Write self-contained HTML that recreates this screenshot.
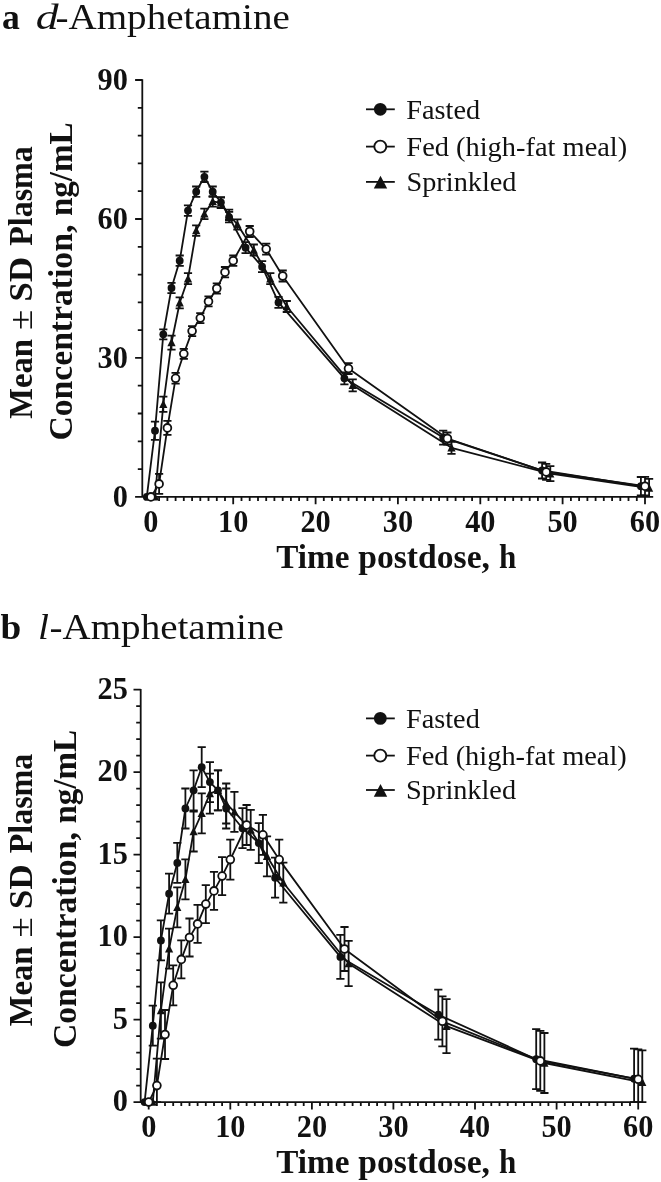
<!DOCTYPE html>
<html lang="en"><head><meta charset="utf-8"><title>Amphetamine plasma concentration</title>
<style>html,body{margin:0;padding:0;background:#fff}svg{display:block}</style></head>
<body>
<svg width="661" height="1182" viewBox="0 0 661 1182" font-family="'Liberation Serif', 'Times New Roman', serif" fill="#111">
<rect width="661" height="1182" fill="#fff"/>
<text x="1.93" y="28.7" font-size="36.5" font-weight="bold" textLength="17.83" lengthAdjust="spacingAndGlyphs">a</text>
<text x="35.73" y="28.7" font-size="36.5" font-style="italic" textLength="22.81" lengthAdjust="spacingAndGlyphs">d</text>
<text x="55.53" y="28.7" font-size="36.5" textLength="234.29" lengthAdjust="spacingAndGlyphs">-Amphetamine</text>
<text x="0.63" y="638.7" font-size="36.5" font-weight="bold" textLength="20.72" lengthAdjust="spacingAndGlyphs">b</text>
<text x="38.12" y="638.7" font-size="36.5" font-style="italic" textLength="10.98" lengthAdjust="spacingAndGlyphs">l</text>
<text x="49.53" y="638.7" font-size="36.5" textLength="234.29" lengthAdjust="spacingAndGlyphs">-Amphetamine</text>
<path fill="none" stroke="#111" stroke-width="1.8" d="M142.3 79.3V496.9M135.1 496.9H645.9M137.8 469.1H142.3M137.8 441.3H142.3M137.8 413.5H142.3M137.8 385.7H142.3M135.1 357.9H142.3M137.8 330.1H142.3M137.8 302.4H142.3M137.8 274.6H142.3M137.8 246.8H142.3M135.1 219H142.3M137.8 191.2H142.3M137.8 163.4H142.3M137.8 135.6H142.3M137.8 107.8H142.3M135.1 80H142.3M159.1 496.9V500.9M167.4 496.9V500.9M175.6 496.9V500.9M183.8 496.9V500.9M192.1 496.9V500.9M200.3 496.9V500.9M208.5 496.9V500.9M216.8 496.9V500.9M225 496.9V500.9M233.2 496.9V504.2M241.5 496.9V500.9M249.7 496.9V500.9M258 496.9V500.9M266.2 496.9V500.9M274.4 496.9V500.9M282.7 496.9V500.9M290.9 496.9V500.9M299.1 496.9V500.9M307.4 496.9V500.9M315.6 496.9V504.2M323.8 496.9V500.9M332.1 496.9V500.9M340.3 496.9V500.9M348.5 496.9V500.9M356.8 496.9V500.9M365 496.9V500.9M373.2 496.9V500.9M381.5 496.9V500.9M389.7 496.9V500.9M397.9 496.9V504.2M406.2 496.9V500.9M414.4 496.9V500.9M422.7 496.9V500.9M430.9 496.9V500.9M439.1 496.9V500.9M447.4 496.9V500.9M455.6 496.9V500.9M463.8 496.9V500.9M472.1 496.9V500.9M480.3 496.9V504.2M488.5 496.9V500.9M496.8 496.9V500.9M505 496.9V500.9M513.2 496.9V500.9M521.5 496.9V500.9M529.7 496.9V500.9M537.9 496.9V500.9M546.2 496.9V500.9M554.4 496.9V500.9M562.6 496.9V504.2M570.9 496.9V500.9M579.1 496.9V500.9M587.4 496.9V500.9M595.6 496.9V500.9M603.8 496.9V500.9M612.1 496.9V500.9M620.3 496.9V500.9M628.5 496.9V500.9M636.8 496.9V500.9M645 496.9V504.2"/>
<polyline fill="none" stroke="#111" stroke-width="1.8" stroke-linejoin="round" points="155,496.9 163.3,404.3 171.5,342.7 179.7,302.8 188,278.7 196.2,230.6 204.4,213.9 212.7,201.4 220.9,202.8 229.1,214.8 237.4,224.5 253.8,250 270.3,278.7 286.8,306.5 352.7,385.3 451.5,447.8 550.3,473.7 649.1,488.1"/>
<path fill="none" stroke="#111" stroke-width="1.8" d="M163.3 396.7V411.9M159.2 396.7H167.4M159.2 411.9H167.4M171.5 335.7V349.7M167.4 335.7H175.6M167.4 349.7H175.6M179.7 297.3V308.3M175.6 297.3H183.8M175.6 308.3H183.8M188 273.2V284.2M183.9 273.2H192.1M183.9 284.2H192.1M196.2 225.4V235.8M192.1 225.4H200.3M192.1 235.8H200.3M204.4 208.7V219.1M200.3 208.7H208.5M200.3 219.1H208.5M212.7 196.2V206.6M208.6 196.2H216.8M208.6 206.6H216.8M220.9 197.6V208M216.8 197.6H225M216.8 208H225M229.1 209.6V220M225 209.6H233.2M225 220H233.2M237.4 219.3V229.7M233.3 219.3H241.5M233.3 229.7H241.5M253.8 244.5V255.5M249.7 244.5H257.9M249.7 255.5H257.9M270.3 273.2V284.2M266.2 273.2H274.4M266.2 284.2H274.4M286.8 301V312M282.7 301H290.9M282.7 312H290.9M352.7 379.3V391.3M348.6 379.3H356.8M348.6 391.3H356.8M451.5 441.8V453.8M447.4 441.8H455.6M447.4 453.8H455.6M550.3 466.2V481.2M546.2 466.2H554.4M546.2 481.2H554.4M649.1 478.9V496.9M645 478.9H653.2M645 496.9H653.2"/>
<path fill="#111" d="M155 492.4L159.1 500.6H150.9Z"/>
<path fill="#111" d="M163.3 399.8L167.4 407.9H159.2Z"/>
<path fill="#111" d="M171.5 338.1L175.6 346.3H167.4Z"/>
<path fill="#111" d="M179.7 298.3L183.8 306.5H175.6Z"/>
<path fill="#111" d="M188 274.2L192.1 282.4H183.9Z"/>
<path fill="#111" d="M196.2 226.1L200.3 234.2H192.1Z"/>
<path fill="#111" d="M204.4 209.4L208.5 217.6H200.3Z"/>
<path fill="#111" d="M212.7 196.9L216.8 205.1H208.6Z"/>
<path fill="#111" d="M220.9 198.3L225 206.5H216.8Z"/>
<path fill="#111" d="M229.1 210.3L233.2 218.5H225Z"/>
<path fill="#111" d="M237.4 220L241.5 228.2H233.3Z"/>
<path fill="#111" d="M253.8 245.5L257.9 253.7H249.7Z"/>
<path fill="#111" d="M270.3 274.2L274.4 282.4H266.2Z"/>
<path fill="#111" d="M286.8 302L290.9 310.2H282.7Z"/>
<path fill="#111" d="M352.7 380.8L356.8 389H348.6Z"/>
<path fill="#111" d="M451.5 443.3L455.6 451.5H447.4Z"/>
<path fill="#111" d="M550.3 469.2L554.4 477.4H546.2Z"/>
<path fill="#111" d="M649.1 483.6L653.2 491.8H645Z"/>
<polyline fill="none" stroke="#111" stroke-width="1.8" stroke-linejoin="round" points="146.8,496.9 155,430.7 163.3,334.3 171.5,288 179.7,260.7 188,210.6 196.2,191.7 204.4,176.8 212.7,191.7 220.9,202.3 229.1,217.1 245.6,247.7 262.1,266.7 278.5,302.4 344.4,378.3 443.2,437.6 542.1,470.5 640.9,486.2"/>
<path fill="none" stroke="#111" stroke-width="1.8" d="M155 421.6V439.8M150.9 421.6H159.1M150.9 439.8H159.1M163.3 329.3V339.3M159.2 329.3H167.4M159.2 339.3H167.4M171.5 282.8V293.2M167.4 282.8H175.6M167.4 293.2H175.6M179.7 255.5V265.9M175.6 255.5H183.8M175.6 265.9H183.8M188 205.4V215.8M183.9 205.4H192.1M183.9 215.8H192.1M196.2 186.5V196.9M192.1 186.5H200.3M192.1 196.9H200.3M204.4 171.6V182M200.3 171.6H208.5M200.3 182H208.5M212.7 186.5V196.9M208.6 186.5H216.8M208.6 196.9H216.8M220.9 197.1V207.5M216.8 197.1H225M216.8 207.5H225M229.1 211.9V222.3M225 211.9H233.2M225 222.3H233.2M245.6 242.2V253.2M241.5 242.2H249.7M241.5 253.2H249.7M262.1 261.2V272.2M258 261.2H266.2M258 272.2H266.2M278.5 296.9V307.9M274.4 296.9H282.6M274.4 307.9H282.6M344.4 372.3V384.3M340.3 372.3H348.5M340.3 384.3H348.5M443.2 430.6V444.6M439.1 430.6H447.3M439.1 444.6H447.3M542.1 462.5V478.5M538 462.5H546.2M538 478.5H546.2M640.9 477V495.4M636.8 477H645M636.8 495.4H645"/>
<circle cx="146.8" cy="496.9" r="3.9" fill="#111"/>
<circle cx="155" cy="430.7" r="3.9" fill="#111"/>
<circle cx="163.3" cy="334.3" r="3.9" fill="#111"/>
<circle cx="171.5" cy="288" r="3.9" fill="#111"/>
<circle cx="179.7" cy="260.7" r="3.9" fill="#111"/>
<circle cx="188" cy="210.6" r="3.9" fill="#111"/>
<circle cx="196.2" cy="191.7" r="3.9" fill="#111"/>
<circle cx="204.4" cy="176.8" r="3.9" fill="#111"/>
<circle cx="212.7" cy="191.7" r="3.9" fill="#111"/>
<circle cx="220.9" cy="202.3" r="3.9" fill="#111"/>
<circle cx="229.1" cy="217.1" r="3.9" fill="#111"/>
<circle cx="245.6" cy="247.7" r="3.9" fill="#111"/>
<circle cx="262.1" cy="266.7" r="3.9" fill="#111"/>
<circle cx="278.5" cy="302.4" r="3.9" fill="#111"/>
<circle cx="344.4" cy="378.3" r="3.9" fill="#111"/>
<circle cx="443.2" cy="437.6" r="3.9" fill="#111"/>
<circle cx="542.1" cy="470.5" r="3.9" fill="#111"/>
<circle cx="640.9" cy="486.2" r="3.9" fill="#111"/>
<polyline fill="none" stroke="#111" stroke-width="1.8" stroke-linejoin="round" points="150.9,496.9 159.1,483.9 167.4,427.9 175.6,378.3 183.8,353.8 192.1,331.1 200.3,318.1 208.5,301.4 216.8,288.5 225,272.2 233.2,260.7 249.7,231.5 266.2,249.1 282.7,276 348.5,368.6 447.4,438.5 546.2,471.9 645,486.2"/>
<path fill="none" stroke="#111" stroke-width="1.8" d="M159.1 473.9V493.9M155 473.9H163.2M155 493.9H163.2M167.4 420.9V434.9M163.3 420.9H171.5M163.3 434.9H171.5M175.6 372.9V383.7M171.5 372.9H179.7M171.5 383.7H179.7M183.8 348.8V358.8M179.7 348.8H187.9M179.7 358.8H187.9M192.1 326.1V336.1M188 326.1H196.2M188 336.1H196.2M200.3 313.1V323.1M196.2 313.1H204.4M196.2 323.1H204.4M208.5 296.4V306.4M204.4 296.4H212.6M204.4 306.4H212.6M216.8 283.3V293.7M212.7 283.3H220.9M212.7 293.7H220.9M225 267V277.4M220.9 267H229.1M220.9 277.4H229.1M233.2 255.5V265.9M229.2 255.5H237.3M229.2 265.9H237.3M249.7 226V237M245.6 226H253.8M245.6 237H253.8M266.2 243.6V254.6M262.1 243.6H270.3M262.1 254.6H270.3M282.7 270.5V281.5M278.6 270.5H286.8M278.6 281.5H286.8M348.5 363.2V374M344.4 363.2H352.6M344.4 374H352.6M447.4 432.5V444.5M443.3 432.5H451.5M443.3 444.5H451.5M546.2 463.9V479.9M542.1 463.9H550.3M542.1 479.9H550.3M645 476.9V495.5M640.9 476.9H649.1M640.9 495.5H649.1"/>
<circle cx="150.9" cy="496.9" r="3.9" fill="#fff" stroke="#111" stroke-width="1.8"/>
<circle cx="159.1" cy="483.9" r="3.9" fill="#fff" stroke="#111" stroke-width="1.8"/>
<circle cx="167.4" cy="427.9" r="3.9" fill="#fff" stroke="#111" stroke-width="1.8"/>
<circle cx="175.6" cy="378.3" r="3.9" fill="#fff" stroke="#111" stroke-width="1.8"/>
<circle cx="183.8" cy="353.8" r="3.9" fill="#fff" stroke="#111" stroke-width="1.8"/>
<circle cx="192.1" cy="331.1" r="3.9" fill="#fff" stroke="#111" stroke-width="1.8"/>
<circle cx="200.3" cy="318.1" r="3.9" fill="#fff" stroke="#111" stroke-width="1.8"/>
<circle cx="208.5" cy="301.4" r="3.9" fill="#fff" stroke="#111" stroke-width="1.8"/>
<circle cx="216.8" cy="288.5" r="3.9" fill="#fff" stroke="#111" stroke-width="1.8"/>
<circle cx="225" cy="272.2" r="3.9" fill="#fff" stroke="#111" stroke-width="1.8"/>
<circle cx="233.2" cy="260.7" r="3.9" fill="#fff" stroke="#111" stroke-width="1.8"/>
<circle cx="249.7" cy="231.5" r="3.9" fill="#fff" stroke="#111" stroke-width="1.8"/>
<circle cx="266.2" cy="249.1" r="3.9" fill="#fff" stroke="#111" stroke-width="1.8"/>
<circle cx="282.7" cy="276" r="3.9" fill="#fff" stroke="#111" stroke-width="1.8"/>
<circle cx="348.5" cy="368.6" r="3.9" fill="#fff" stroke="#111" stroke-width="1.8"/>
<circle cx="447.4" cy="438.5" r="3.9" fill="#fff" stroke="#111" stroke-width="1.8"/>
<circle cx="546.2" cy="471.9" r="3.9" fill="#fff" stroke="#111" stroke-width="1.8"/>
<circle cx="645" cy="486.2" r="3.9" fill="#fff" stroke="#111" stroke-width="1.8"/>
<g font-weight="bold" font-size="32.3"><text x="127.9" y="506.7" text-anchor="end" textLength="15.15" lengthAdjust="spacingAndGlyphs">0</text>
<text x="127.9" y="367.7" text-anchor="end" textLength="30.3" lengthAdjust="spacingAndGlyphs">30</text>
<text x="127.9" y="228.8" text-anchor="end" textLength="30.3" lengthAdjust="spacingAndGlyphs">60</text>
<text x="127.9" y="89.8" text-anchor="end" textLength="30.3" lengthAdjust="spacingAndGlyphs">90</text>
<text x="150.9" y="531.7" text-anchor="middle" textLength="15.15" lengthAdjust="spacingAndGlyphs">0</text>
<text x="233.2" y="531.7" text-anchor="middle" textLength="30.3" lengthAdjust="spacingAndGlyphs">10</text>
<text x="315.6" y="531.7" text-anchor="middle" textLength="30.3" lengthAdjust="spacingAndGlyphs">20</text>
<text x="397.9" y="531.7" text-anchor="middle" textLength="30.3" lengthAdjust="spacingAndGlyphs">30</text>
<text x="480.3" y="531.7" text-anchor="middle" textLength="30.3" lengthAdjust="spacingAndGlyphs">40</text>
<text x="562.6" y="531.7" text-anchor="middle" textLength="30.3" lengthAdjust="spacingAndGlyphs">50</text>
<text x="645" y="531.7" text-anchor="middle" textLength="30.3" lengthAdjust="spacingAndGlyphs">60</text></g>
<path stroke="#111" stroke-width="1.8" d="M366 109.3H394.8"/>
<circle cx="380.3" cy="109.3" r="6.4" fill="#111"/>
<text x="406.33" y="118.65" font-size="27.2" textLength="73.85" lengthAdjust="spacingAndGlyphs">Fasted</text>
<path stroke="#111" stroke-width="1.8" d="M366 146.6H394.8"/>
<circle cx="380.3" cy="146.6" r="6" fill="#fff" stroke="#111" stroke-width="1.9"/>
<text x="406.33" y="155.6" font-size="27.2" textLength="220.89" lengthAdjust="spacingAndGlyphs">Fed (high-fat meal)</text>
<path stroke="#111" stroke-width="1.8" d="M366 181.9H394.8"/>
<path fill="#111" d="M380.5 175.8L387.2 188.6H373.8Z"/>
<text x="406.5" y="190.8" font-size="27.2" textLength="109.98" lengthAdjust="spacingAndGlyphs">Sprinkled</text>
<text x="276.32" y="568" font-size="33.3" font-weight="bold" textLength="73.17" lengthAdjust="spacingAndGlyphs">Time</text>
<text x="358.26" y="568" font-size="33.3" font-weight="bold" textLength="131.75" lengthAdjust="spacingAndGlyphs">postdose,</text>
<text x="498.98" y="568" font-size="33.3" font-weight="bold" textLength="17.31" lengthAdjust="spacingAndGlyphs">h</text>
<text transform="translate(32.4 418.83) rotate(-90)" font-size="33.4" font-weight="bold" textLength="79.73" lengthAdjust="spacingAndGlyphs">Mean</text>
<text transform="translate(32.4 330.09) rotate(-90)" font-size="33.4" font-weight="normal" textLength="20.44" lengthAdjust="spacingAndGlyphs">±</text>
<text transform="translate(32.4 301.44) rotate(-90)" font-size="33.4" font-weight="bold" textLength="44.4" lengthAdjust="spacingAndGlyphs">SD</text>
<text transform="translate(32.4 245.82) rotate(-90)" font-size="33.4" font-weight="bold" textLength="99.64" lengthAdjust="spacingAndGlyphs">Plasma</text>
<text transform="translate(72 440.55) rotate(-90)" font-size="33.4" font-weight="bold" textLength="215.86" lengthAdjust="spacingAndGlyphs">Concentration,</text>
<text transform="translate(72 216.06) rotate(-90)" font-size="33.4" font-weight="bold" textLength="93.68" lengthAdjust="spacingAndGlyphs">ng/mL</text>
<path fill="none" stroke="#111" stroke-width="1.8" d="M140.7 688.9V1102.1M133.5 1102.1H639M136.2 1085.6H140.7M136.2 1069.1H140.7M136.2 1052.6H140.7M136.2 1036.1H140.7M133.5 1019.6H140.7M136.2 1003.1H140.7M136.2 986.6H140.7M136.2 970.1H140.7M136.2 953.6H140.7M133.5 937.1H140.7M136.2 920.6H140.7M136.2 904.1H140.7M136.2 887.6H140.7M136.2 871.1H140.7M133.5 854.6H140.7M136.2 838.1H140.7M136.2 821.7H140.7M136.2 805.2H140.7M136.2 788.7H140.7M133.5 772.2H140.7M136.2 755.7H140.7M136.2 739.2H140.7M136.2 722.7H140.7M136.2 706.2H140.7M133.5 689.7H140.7M148.7 1102.1V1109.4M156.9 1102.1V1106.1M165 1102.1V1106.1M173.2 1102.1V1106.1M181.3 1102.1V1106.1M189.5 1102.1V1106.1M197.6 1102.1V1106.1M205.8 1102.1V1106.1M214 1102.1V1106.1M222.1 1102.1V1106.1M230.3 1102.1V1109.4M238.4 1102.1V1106.1M246.6 1102.1V1106.1M254.8 1102.1V1106.1M262.9 1102.1V1106.1M271.1 1102.1V1106.1M279.2 1102.1V1106.1M287.4 1102.1V1106.1M295.5 1102.1V1106.1M303.7 1102.1V1106.1M311.9 1102.1V1109.4M320 1102.1V1106.1M328.2 1102.1V1106.1M336.3 1102.1V1106.1M344.5 1102.1V1106.1M352.6 1102.1V1106.1M360.8 1102.1V1106.1M369 1102.1V1106.1M377.1 1102.1V1106.1M385.3 1102.1V1106.1M393.4 1102.1V1109.4M401.6 1102.1V1106.1M409.8 1102.1V1106.1M417.9 1102.1V1106.1M426.1 1102.1V1106.1M434.2 1102.1V1106.1M442.4 1102.1V1106.1M450.5 1102.1V1106.1M458.7 1102.1V1106.1M466.9 1102.1V1106.1M475 1102.1V1109.4M483.2 1102.1V1106.1M491.3 1102.1V1106.1M499.5 1102.1V1106.1M507.7 1102.1V1106.1M515.8 1102.1V1106.1M524 1102.1V1106.1M532.1 1102.1V1106.1M540.3 1102.1V1106.1M548.4 1102.1V1106.1M556.6 1102.1V1109.4M564.8 1102.1V1106.1M572.9 1102.1V1106.1M581.1 1102.1V1106.1M589.2 1102.1V1106.1M597.4 1102.1V1106.1M605.5 1102.1V1106.1M613.7 1102.1V1106.1M621.9 1102.1V1106.1M630 1102.1V1106.1M638.2 1102.1V1109.4"/>
<polyline fill="none" stroke="#111" stroke-width="1.8" stroke-linejoin="round" points="152.8,1102.1 160.9,1010.5 169.1,948.7 177.3,907.4 185.4,879.4 193.6,831.5 201.7,813.4 209.9,793.6 218,790.3 226.2,803.5 234.4,811.8 250.7,829.9 267,856.3 283.3,882.7 348.6,963.5 446.5,1026.2 544.4,1063 642.3,1082.3"/>
<path fill="none" stroke="#111" stroke-width="1.8" d="M160.9 982.3V1038.7M156.8 982.3H165M156.8 1038.7H165M169.1 928.7V968.7M165 928.7H173.2M165 968.7H173.2M177.3 887.4V927.4M173.2 887.4H181.4M173.2 927.4H181.4M185.4 859.4V899.4M181.3 859.4H189.5M181.3 899.4H189.5M193.6 811.5V851.5M189.5 811.5H197.7M189.5 851.5H197.7M201.7 793.4V833.4M197.6 793.4H205.8M197.6 833.4H205.8M209.9 773.6V813.6M205.8 773.6H214M205.8 813.6H214M218 770.3V810.3M213.9 770.3H222.1M213.9 810.3H222.1M226.2 783.5V823.5M222.1 783.5H230.3M222.1 823.5H230.3M234.4 791.8V831.8M230.3 791.8H238.5M230.3 831.8H238.5M250.7 809.9V849.9M246.6 809.9H254.8M246.6 849.9H254.8M267 836.3V876.3M262.9 836.3H271.1M262.9 876.3H271.1M283.3 862.7V902.7M279.2 862.7H287.4M279.2 902.7H287.4M348.6 940.9V986.1M344.5 940.9H352.7M344.5 986.1H352.7M446.5 999.2V1053.2M442.4 999.2H450.6M442.4 1053.2H450.6M544.4 1033V1093M540.3 1033H548.5M540.3 1093H548.5M642.3 1050.3V1102.1M638.2 1050.3H646.4M638.2 1102.1H646.4"/>
<path fill="#111" d="M152.8 1097.6L156.9 1105.8H148.7Z"/>
<path fill="#111" d="M160.9 1006L165 1014.2H156.8Z"/>
<path fill="#111" d="M169.1 944.2L173.2 952.4H165Z"/>
<path fill="#111" d="M177.3 902.9L181.4 911.1H173.2Z"/>
<path fill="#111" d="M185.4 874.9L189.5 883.1H181.3Z"/>
<path fill="#111" d="M193.6 827L197.7 835.2H189.5Z"/>
<path fill="#111" d="M201.7 808.9L205.8 817.1H197.6Z"/>
<path fill="#111" d="M209.9 789.1L214 797.3H205.8Z"/>
<path fill="#111" d="M218 785.8L222.1 794H213.9Z"/>
<path fill="#111" d="M226.2 799L230.3 807.2H222.1Z"/>
<path fill="#111" d="M234.4 807.2L238.5 815.4H230.3Z"/>
<path fill="#111" d="M250.7 825.4L254.8 833.6H246.6Z"/>
<path fill="#111" d="M267 851.8L271.1 860H262.9Z"/>
<path fill="#111" d="M283.3 878.2L287.4 886.4H279.2Z"/>
<path fill="#111" d="M348.6 959L352.7 967.2H344.5Z"/>
<path fill="#111" d="M446.5 1021.7L450.6 1029.9H442.4Z"/>
<path fill="#111" d="M544.4 1058.5L548.5 1066.7H540.3Z"/>
<path fill="#111" d="M642.3 1077.8L646.4 1086H638.2Z"/>
<polyline fill="none" stroke="#111" stroke-width="1.8" stroke-linejoin="round" points="144.6,1102.1 152.8,1025.7 160.9,940.4 169.1,893.7 177.3,862.9 185.4,808.5 193.6,790.3 201.7,767.2 209.9,782.1 218,790.3 226.2,808.5 242.5,828.2 258.8,843.1 275.1,877.7 340.4,956.9 438.3,1014.7 536.2,1059.2 634.1,1078.7"/>
<path fill="none" stroke="#111" stroke-width="1.8" d="M152.8 1005.7V1045.7M148.7 1005.7H156.9M148.7 1045.7H156.9M160.9 920.4V960.4M156.8 920.4H165M156.8 960.4H165M169.1 873.7V913.7M165 873.7H173.2M165 913.7H173.2M177.3 842.9V882.9M173.2 842.9H181.4M173.2 882.9H181.4M185.4 788.5V828.5M181.3 788.5H189.5M181.3 828.5H189.5M193.6 770.3V810.3M189.5 770.3H197.7M189.5 810.3H197.7M201.7 747.2V787.2M197.6 747.2H205.8M197.6 787.2H205.8M209.9 762.1V802.1M205.8 762.1H214M205.8 802.1H214M218 770.3V810.3M213.9 770.3H222.1M213.9 810.3H222.1M226.2 788.5V828.5M222.1 788.5H230.3M222.1 828.5H230.3M242.5 808.2V848.2M238.4 808.2H246.6M238.4 848.2H246.6M258.8 823.1V863.1M254.7 823.1H262.9M254.7 863.1H262.9M275.1 857.7V897.7M271 857.7H279.2M271 897.7H279.2M340.4 934.9V978.9M336.3 934.9H344.5M336.3 978.9H344.5M438.3 989.7V1039.7M434.2 989.7H442.4M434.2 1039.7H442.4M536.2 1029.2V1089.2M532.1 1029.2H540.3M532.1 1089.2H540.3M634.1 1048.7V1102.1M630 1048.7H638.2M630 1102.1H638.2"/>
<circle cx="144.6" cy="1102.1" r="3.9" fill="#111"/>
<circle cx="152.8" cy="1025.7" r="3.9" fill="#111"/>
<circle cx="160.9" cy="940.4" r="3.9" fill="#111"/>
<circle cx="169.1" cy="893.7" r="3.9" fill="#111"/>
<circle cx="177.3" cy="862.9" r="3.9" fill="#111"/>
<circle cx="185.4" cy="808.5" r="3.9" fill="#111"/>
<circle cx="193.6" cy="790.3" r="3.9" fill="#111"/>
<circle cx="201.7" cy="767.2" r="3.9" fill="#111"/>
<circle cx="209.9" cy="782.1" r="3.9" fill="#111"/>
<circle cx="218" cy="790.3" r="3.9" fill="#111"/>
<circle cx="226.2" cy="808.5" r="3.9" fill="#111"/>
<circle cx="242.5" cy="828.2" r="3.9" fill="#111"/>
<circle cx="258.8" cy="843.1" r="3.9" fill="#111"/>
<circle cx="275.1" cy="877.7" r="3.9" fill="#111"/>
<circle cx="340.4" cy="956.9" r="3.9" fill="#111"/>
<circle cx="438.3" cy="1014.7" r="3.9" fill="#111"/>
<circle cx="536.2" cy="1059.2" r="3.9" fill="#111"/>
<circle cx="634.1" cy="1078.7" r="3.9" fill="#111"/>
<polyline fill="none" stroke="#111" stroke-width="1.8" stroke-linejoin="round" points="148.7,1102.1 156.9,1085.6 165,1034.5 173.2,985.3 181.3,959.4 189.5,937.5 197.6,923.9 205.8,904.1 214,890.9 222.1,876.1 230.3,859.6 246.6,825 262.9,834.8 279.2,859.6 344.5,949 442.4,1021.3 540.3,1060.9 638.2,1079.3"/>
<path fill="none" stroke="#111" stroke-width="1.8" d="M156.9 1058.6V1102.1M152.8 1058.6H161M152.8 1102.1H161M165 1010V1059M160.9 1010H169.1M160.9 1059H169.1M173.2 965.3V1005.3M169.1 965.3H177.3M169.1 1005.3H177.3M181.3 940.4V978.4M177.2 940.4H185.4M177.2 978.4H185.4M189.5 918.5V956.5M185.4 918.5H193.6M185.4 956.5H193.6M197.6 904.9V942.9M193.5 904.9H201.7M193.5 942.9H201.7M205.8 885.1V923.1M201.7 885.1H209.9M201.7 923.1H209.9M214 871.9V909.9M209.9 871.9H218.1M209.9 909.9H218.1M222.1 857.1V895.1M218 857.1H226.2M218 895.1H226.2M230.3 839.6V879.6M226.2 839.6H234.4M226.2 879.6H234.4M246.6 805V845M242.5 805H250.7M242.5 845H250.7M262.9 814.8V854.8M258.8 814.8H267M258.8 854.8H267M279.2 839.6V879.6M275.1 839.6H283.3M275.1 879.6H283.3M344.5 927V971M340.4 927H348.6M340.4 971H348.6M442.4 996.3V1046.3M438.3 996.3H446.5M438.3 1046.3H446.5M540.3 1030.9V1090.9M536.2 1030.9H544.4M536.2 1090.9H544.4M638.2 1049.3V1102.1M634.1 1049.3H642.3M634.1 1102.1H642.3"/>
<circle cx="148.7" cy="1102.1" r="3.9" fill="#fff" stroke="#111" stroke-width="1.8"/>
<circle cx="156.9" cy="1085.6" r="3.9" fill="#fff" stroke="#111" stroke-width="1.8"/>
<circle cx="165" cy="1034.5" r="3.9" fill="#fff" stroke="#111" stroke-width="1.8"/>
<circle cx="173.2" cy="985.3" r="3.9" fill="#fff" stroke="#111" stroke-width="1.8"/>
<circle cx="181.3" cy="959.4" r="3.9" fill="#fff" stroke="#111" stroke-width="1.8"/>
<circle cx="189.5" cy="937.5" r="3.9" fill="#fff" stroke="#111" stroke-width="1.8"/>
<circle cx="197.6" cy="923.9" r="3.9" fill="#fff" stroke="#111" stroke-width="1.8"/>
<circle cx="205.8" cy="904.1" r="3.9" fill="#fff" stroke="#111" stroke-width="1.8"/>
<circle cx="214" cy="890.9" r="3.9" fill="#fff" stroke="#111" stroke-width="1.8"/>
<circle cx="222.1" cy="876.1" r="3.9" fill="#fff" stroke="#111" stroke-width="1.8"/>
<circle cx="230.3" cy="859.6" r="3.9" fill="#fff" stroke="#111" stroke-width="1.8"/>
<circle cx="246.6" cy="825" r="3.9" fill="#fff" stroke="#111" stroke-width="1.8"/>
<circle cx="262.9" cy="834.8" r="3.9" fill="#fff" stroke="#111" stroke-width="1.8"/>
<circle cx="279.2" cy="859.6" r="3.9" fill="#fff" stroke="#111" stroke-width="1.8"/>
<circle cx="344.5" cy="949" r="3.9" fill="#fff" stroke="#111" stroke-width="1.8"/>
<circle cx="442.4" cy="1021.3" r="3.9" fill="#fff" stroke="#111" stroke-width="1.8"/>
<circle cx="540.3" cy="1060.9" r="3.9" fill="#fff" stroke="#111" stroke-width="1.8"/>
<circle cx="638.2" cy="1079.3" r="3.9" fill="#fff" stroke="#111" stroke-width="1.8"/>
<g font-weight="bold" font-size="32.3"><text x="127.9" y="1111.3" text-anchor="end" textLength="15.15" lengthAdjust="spacingAndGlyphs">0</text>
<text x="127.9" y="1028.8" text-anchor="end" textLength="15.15" lengthAdjust="spacingAndGlyphs">5</text>
<text x="127.9" y="946.3" text-anchor="end" textLength="30.3" lengthAdjust="spacingAndGlyphs">10</text>
<text x="127.9" y="863.8" text-anchor="end" textLength="30.3" lengthAdjust="spacingAndGlyphs">15</text>
<text x="127.9" y="781.4" text-anchor="end" textLength="30.3" lengthAdjust="spacingAndGlyphs">20</text>
<text x="127.9" y="698.9" text-anchor="end" textLength="30.3" lengthAdjust="spacingAndGlyphs">25</text>
<text x="148.7" y="1136.7" text-anchor="middle" textLength="15.15" lengthAdjust="spacingAndGlyphs">0</text>
<text x="230.3" y="1136.7" text-anchor="middle" textLength="30.3" lengthAdjust="spacingAndGlyphs">10</text>
<text x="311.9" y="1136.7" text-anchor="middle" textLength="30.3" lengthAdjust="spacingAndGlyphs">20</text>
<text x="393.4" y="1136.7" text-anchor="middle" textLength="30.3" lengthAdjust="spacingAndGlyphs">30</text>
<text x="475" y="1136.7" text-anchor="middle" textLength="30.3" lengthAdjust="spacingAndGlyphs">40</text>
<text x="556.6" y="1136.7" text-anchor="middle" textLength="30.3" lengthAdjust="spacingAndGlyphs">50</text>
<text x="638.2" y="1136.7" text-anchor="middle" textLength="30.3" lengthAdjust="spacingAndGlyphs">60</text></g>
<path stroke="#111" stroke-width="1.8" d="M366 718.4H394.8"/>
<circle cx="380.3" cy="718.4" r="6.4" fill="#111"/>
<text x="405.93" y="727.7" font-size="27.2" textLength="73.85" lengthAdjust="spacingAndGlyphs">Fasted</text>
<path stroke="#111" stroke-width="1.8" d="M366 755.6H394.8"/>
<circle cx="380.3" cy="755.6" r="6" fill="#fff" stroke="#111" stroke-width="1.9"/>
<text x="405.93" y="764.65" font-size="27.2" textLength="220.89" lengthAdjust="spacingAndGlyphs">Fed (high-fat meal)</text>
<path stroke="#111" stroke-width="1.8" d="M366 790H394.8"/>
<path fill="#111" d="M380.5 783.9L387.2 796.8H373.8Z"/>
<text x="406.1" y="798.95" font-size="27.2" textLength="109.98" lengthAdjust="spacingAndGlyphs">Sprinkled</text>
<text x="276.32" y="1172.9" font-size="33.3" font-weight="bold" textLength="73.17" lengthAdjust="spacingAndGlyphs">Time</text>
<text x="358.26" y="1172.9" font-size="33.3" font-weight="bold" textLength="131.75" lengthAdjust="spacingAndGlyphs">postdose,</text>
<text x="498.98" y="1172.9" font-size="33.3" font-weight="bold" textLength="17.31" lengthAdjust="spacingAndGlyphs">h</text>
<text transform="translate(32.4 1026.33) rotate(-90)" font-size="33.4" font-weight="bold" textLength="79.73" lengthAdjust="spacingAndGlyphs">Mean</text>
<text transform="translate(32.4 937.59) rotate(-90)" font-size="33.4" font-weight="normal" textLength="20.44" lengthAdjust="spacingAndGlyphs">±</text>
<text transform="translate(32.4 908.94) rotate(-90)" font-size="33.4" font-weight="bold" textLength="44.4" lengthAdjust="spacingAndGlyphs">SD</text>
<text transform="translate(32.4 853.32) rotate(-90)" font-size="33.4" font-weight="bold" textLength="99.64" lengthAdjust="spacingAndGlyphs">Plasma</text>
<text transform="translate(75.7 1048.05) rotate(-90)" font-size="33.4" font-weight="bold" textLength="215.86" lengthAdjust="spacingAndGlyphs">Concentration,</text>
<text transform="translate(75.7 823.56) rotate(-90)" font-size="33.4" font-weight="bold" textLength="93.68" lengthAdjust="spacingAndGlyphs">ng/mL</text>
</svg>
</body></html>
